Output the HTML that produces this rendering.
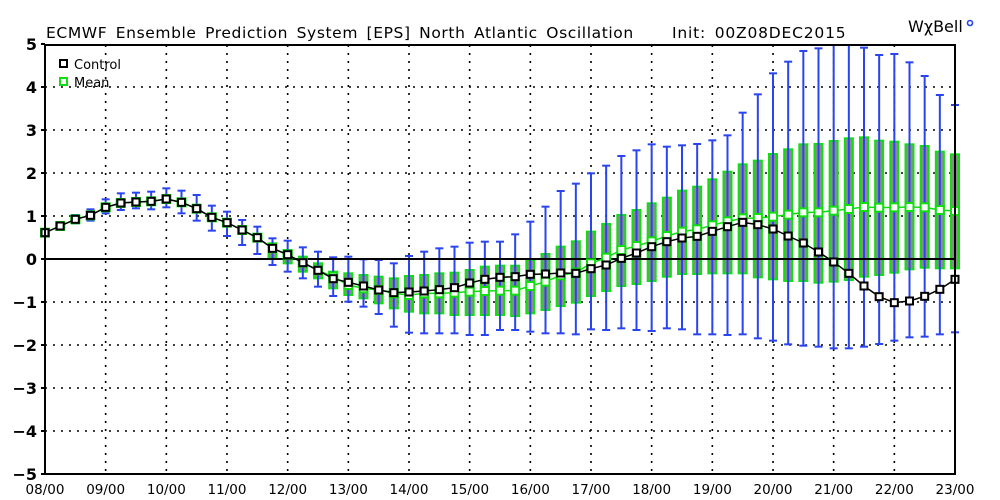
<!DOCTYPE html>
<html><head><meta charset="utf-8"><style>
html,body{margin:0;padding:0;background:#fff;}
svg{display:block;font-family:"DejaVu Sans","Liberation Sans",sans-serif;}
</style></head><body>
<svg id="s" width="1000" height="500" xmlns="http://www.w3.org/2000/svg">
<rect width="1000" height="500" fill="#fff"/>
<text x="46" y="38" font-size="15.5" fill="#000" letter-spacing="0.6" word-spacing="3">ECMWF Ensemble Prediction System [EPS] North Atlantic Oscillation</text>
<text x="672" y="38" font-size="15.5" fill="#000" letter-spacing="0.8" word-spacing="3">Init: 00Z08DEC2015</text>
<text x="908" y="32" font-size="16" fill="#000">WχBell</text>
<circle cx="970" cy="23" r="2.5" fill="none" stroke="#2244ee" stroke-width="1.6"/>
<g id="g"></g>
</svg>
<script>
const g=document.getElementById('g');
let h='';
const L=45,R=955,T=45,B=474;
const X=i=>L+i*(R-L)/60;
const Yv=v=>259-v*43;
for(let d=1;d<15;d++){const x=L+d*(R-L)/15;h+=`<line x1="${x}" y1="${T}" x2="${x}" y2="${B}" stroke="#000" stroke-width="1.6" stroke-dasharray="2,6"/>`;}
for(let v=-4;v<=4;v++){if(v==0)continue;const y=Yv(v);h+=`<line x1="${L}" y1="${y}" x2="${R}" y2="${y}" stroke="#000" stroke-width="1.6" stroke-dasharray="2,6"/>`;}
const ctrl1=[698,678,658,646,622,609,606,604,597,607,626,652,668,690,713,745,764,788,811,836,847,858,870,878,876,873,869,863,849];
const ctrl2=[838,832,830,823,822,819,820,806,795,775,759,740,725,714,709,694,680,667,674,687,708,729,756,786,820,858,890,908,903,889,868,838];
const ctrl=ctrl1.concat(ctrl2).map(v=>v/3);
const mean1=ctrl1.slice(0,19).concat([830,855,865,870,880,885,880,880,878,875]);
const mean2=[873,872,872,858,845,826,818,790,773,750,738,724,708,695,688,676,664,655,654,650,644,637,637,632,627,621,623,622,621,622,630,633];
const mean=mean1.concat(mean2).map(v=>v/3);
const box2=[[800,945],[797,945],[797,948],[780,940],[762,930],[740,918],[724,908],[695,888],[672,873],[645,858],[630,852],[610,843],[593,830],[572,822],[560,822],[538,820],[515,820],[493,820],[482,832],[462,838],[448,843],[433,843],[432,848],[423,845],[415,840],[412,830],[422,825],[425,818],[433,808],[438,803],[455,805],[463,805]];
const box1=[[730,775],[750,790],[770,815],[790,835],[815,865],[820,885],[825,895],[830,910],[835,925],[828,935],[825,940],[820,940],[818,945],[810,945]];
const wh2=[[725,1005],[725,990],[703,990],[665,995],[620,1000],[573,1000],[551,1003],[520,988],[497,990],[468,985],[451,990],[433,993],[440,985],[436,988],[432,1003],[421,1003],[406,1005],[338,1003],[283,1015],[220,1022],[185,1033],[153,1037],[145,1040],[130,1045],[135,1045],[143,1040],[165,1032],[162,1022],[187,1012],[228,1010],[285,1003],[315,997]];
const wh1=[[690,706],[668,688],[645,670],[628,662],[598,640],[580,630],[578,625],[575,628],[565,622],[572,640],[585,662],[617,692],[635,708],[660,735],[680,762],[715,795],[722,815],[742,835],[755,860],[772,888],[770,905],[778,920],[780,942],[790,980],[768,998],[755,1000],[745,1000],[740,1000],[728,1005]];
const wh=wh1.concat(wh2).map(a=>[a[0]/3,a[1]/3]);
const bx=[];
for(let i=0;i<15;i++){bx.push([mean[i]*3-9,mean[i]*3+9]);}
const boxes=bx.concat(box1,box2).map(a=>[a[0]/3,a[1]/3]);
for(let i=0;i<61;i++){const x=X(i),b=boxes[i];h+=`<rect x="${x-4}" y="${b[0]}" width="8" height="${b[1]-b[0]}" fill="#8c8c8c" stroke="#11dd11" stroke-width="2"/>`;}
for(let i=0;i<61;i++){const x=X(i),w=wh[i];const top=Math.max(w[0],T);
h+=`<line x1="${x}" y1="${top}" x2="${x}" y2="${w[1]}" stroke="#2a44f0" stroke-width="2"/>`;
if(w[0]>=T)h+=`<line x1="${x-4}" y1="${w[0]}" x2="${x+4}" y2="${w[0]}" stroke="#2a44f0" stroke-width="2"/>`;
h+=`<line x1="${x-4}" y1="${w[1]}" x2="${x+4}" y2="${w[1]}" stroke="#2a44f0" stroke-width="2"/>`;}
h+=`<line x1="${L}" y1="259" x2="${R}" y2="259" stroke="#000" stroke-width="2"/>`;
h+=`<polyline fill="none" stroke="#11dd11" stroke-width="1.5" points="${mean.map((y,i)=>X(i)+','+y).join(' ')}"/>`;
for(let i=0;i<61;i++)h+=`<rect x="${X(i)-4}" y="${mean[i]-4}" width="8" height="8" fill="#fff" stroke="#11dd11" stroke-width="2"/>`;
h+=`<polyline fill="none" stroke="#000" stroke-width="1.5" points="${ctrl.map((y,i)=>X(i)+','+y).join(' ')}"/>`;
for(let i=0;i<61;i++)h+=`<rect x="${X(i)-3.5}" y="${ctrl[i]-3.5}" width="7" height="7" fill="#fff" stroke="#000" stroke-width="2"/>`;
h+=`<rect x="${L}" y="${T}" width="${R-L}" height="${B-T}" fill="none" stroke="#000" stroke-width="2"/>`;
for(let v=-5;v<=5;v++){const y=Yv(v);h+=`<line x1="${L-4}" y1="${y}" x2="${L}" y2="${y}" stroke="#000" stroke-width="2"/>`;
h+=`<text x="${L-8}" y="${y+6}" font-size="16" font-weight="bold" text-anchor="end">${v<0?'\u2212'+(-v):v}</text>`;}
for(let d=0;d<=15;d++){const x=L+d*(R-L)/15;h+=`<text x="${x}" y="494" font-size="13.5" text-anchor="middle">${String(8+d).padStart(2,'0')}/00</text>`;}
h+=`<rect x="60" y="60" width="7" height="7" fill="#fff" stroke="#000" stroke-width="2"/><text x="74" y="69" font-size="13">Control</text>`;
h+=`<rect x="60" y="78" width="7" height="7" fill="#fff" stroke="#11dd11" stroke-width="2"/><text x="74" y="87" font-size="13">Mean</text>`;
g.innerHTML=h;
</script>
</body></html>
